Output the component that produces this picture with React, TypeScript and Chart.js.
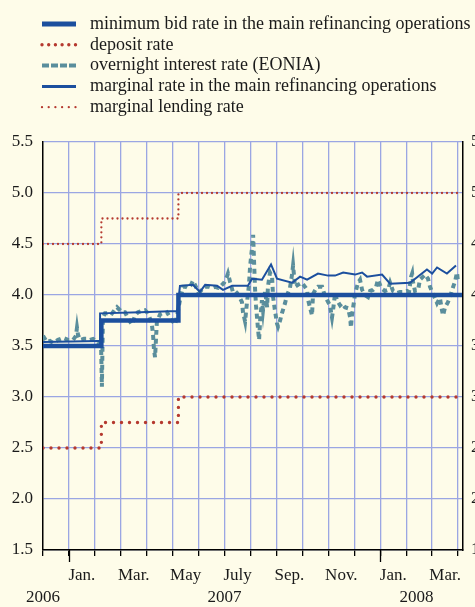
import React, { useEffect, useRef } from 'react';
import { Chart, registerables } from 'chart.js';

Chart.register(...registerables);

const FONT = '"Liberation Serif", "Times New Roman", serif';

// ---- Data (x = position in months along the time axis, 0 = left edge) ----
const rateChangePos = [0, 2.25, 5.22, 16.15];
const minBidRate = [3.5, 3.75, 4.0, 4.0];
const depositRate = [2.5, 2.75, 3.0, 3.0];
const lendingRate = [4.5, 4.75, 5.0, 5.0];

const eoniaPos = [
  0.0, 0.15, 0.27, 0.39, 0.58, 0.77, 0.96, 1.16, 1.27, 1.31, 1.35, 1.43, 1.58, 1.7, 1.81, 1.93, 2.04, 2.12,
  2.24, 2.27, 2.31, 2.39, 2.47, 2.58, 2.66, 2.78, 2.85, 2.97, 3.05, 3.16, 3.28, 3.35, 3.43, 3.55, 3.66, 3.78,
  3.93, 4.05, 4.12, 4.2, 4.24, 4.28, 4.32, 4.39, 4.51, 4.59, 4.7, 4.78, 4.9, 5.01, 5.09, 5.17, 5.28, 5.4,
  5.51, 5.59, 5.71, 5.78, 5.86, 5.98, 6.05, 6.17, 6.28, 6.4, 6.52, 6.63, 6.75, 6.86, 6.98, 7.09, 7.13, 7.21,
  7.32, 7.4, 7.48, 7.59, 7.67, 7.71, 7.79, 7.86, 7.94, 7.98, 8.06, 8.1, 8.13, 8.17, 8.21, 8.25, 8.29, 8.33,
  8.37, 8.44, 8.48, 8.56, 8.64, 8.67, 8.75, 8.83, 8.87, 8.94, 9.02, 9.06, 9.14, 9.21, 9.33, 9.41, 9.52, 9.6,
  9.64, 9.68, 9.71, 9.83, 9.98, 10.1, 10.18, 10.22, 10.29, 10.37, 10.41, 10.52, 10.6, 10.76, 10.87, 10.95,
  11.06, 11.14, 11.18, 11.26, 11.33, 11.45, 11.53, 11.64, 11.76, 11.84, 11.87, 11.91, 12.03, 12.14, 12.22,
  12.3, 12.41, 12.53, 12.61, 12.72, 12.84, 12.91, 12.99, 13.07, 13.18, 13.3, 13.38, 13.49, 13.65, 13.76,
  13.88, 14.03, 14.11, 14.19, 14.23, 14.26, 14.34, 14.46, 14.53, 14.65, 14.73, 14.84, 14.92, 15.03, 15.11,
  15.19, 15.3, 15.38, 15.42, 15.5, 15.61, 15.69, 15.77, 15.88, 15.96, 16.0,
];
const eoniaRate = [
  3.6, 3.54, 3.55, 3.53, 3.56, 3.58, 3.56, 3.56, 3.6, 3.68, 3.61, 3.56, 3.57, 3.57, 3.56, 3.57, 3.55, 3.54,
  3.49, 3.1, 3.78, 3.82, 3.82, 3.83, 3.82, 3.86, 3.88, 3.85, 3.83, 3.83, 3.77, 3.74, 3.71, 3.8, 3.83, 3.84,
  3.85, 3.82, 3.77, 3.7, 3.62, 3.46, 3.39, 3.74, 3.81, 3.82, 3.82, 3.83, 3.78, 3.74, 3.71, 3.8, 3.95, 4.08,
  4.08, 4.07, 4.1, 4.14, 4.1, 4.03, 4.03, 4.07, 4.08, 4.08, 4.07, 4.08, 4.07, 4.09, 4.12, 4.18, 4.21, 4.13,
  4.03, 4.04, 4.02, 3.97, 3.93, 3.83, 3.74, 3.92, 4.1, 4.27, 4.47, 4.59, 4.37, 4.08, 3.9, 3.78, 3.66, 3.56,
  3.75, 3.95, 3.85, 4.04, 3.88, 4.08, 4.22, 4.18, 3.98, 3.85, 3.72, 3.69, 3.75, 3.82, 3.92, 4.0, 4.07, 4.2,
  4.29, 4.18, 4.08, 4.1, 4.12, 4.08, 4.05, 3.95, 3.88, 3.8, 4.01, 4.06, 4.08, 4.08, 3.99, 3.95,
  3.9, 3.78, 3.85, 4.02, 3.95, 3.9, 3.92, 3.88, 3.87, 3.78, 3.68, 3.8, 4.01, 4.12, 4.15,
  4.05, 4.0, 3.98, 4.04, 4.05, 4.08, 4.15, 4.1, 4.06, 4.04, 4.05, 4.12, 4.04, 4.02, 4.03,
  4.03, 4.04, 4.03, 4.18, 4.21, 4.13, 4.04, 4.05, 4.15, 4.18, 4.2, 4.16, 4.08, 4.01, 3.97,
  3.92, 3.97, 3.85, 3.8, 3.88, 3.93, 3.98, 4.05, 4.13, 4.22, 4.12,
];

const marginalPos = [
  0, 2.12, 2.2, 2.2, 3.74, 4.9, 5.17, 5.28, 5.78, 6.05, 6.25, 6.71, 6.94, 7.29, 7.9, 8.06, 8.44, 8.79, 9.02,
  9.6, 9.91, 10.18, 10.6, 10.99, 11.26, 11.57, 12.03, 12.3, 12.49, 13.07, 13.38, 14.15, 14.8, 15.0, 15.19,
  15.57, 15.92,
];
const marginalRate = [
  3.54, 3.55, 3.55, 3.82, 3.83, 3.84, 3.84, 4.09, 4.1, 4.03, 4.1, 4.09, 4.05, 4.09, 4.09, 4.16, 4.15, 4.3,
  4.16, 4.12, 4.18, 4.15, 4.21, 4.19, 4.19, 4.22, 4.2, 4.22, 4.18, 4.2, 4.11, 4.12, 4.25, 4.21, 4.27, 4.21,
  4.29,
];

const seriesLabels = [
  'minimum bid rate in the main refinancing operations',
  'deposit rate',
  'overnight interest rate (EONIA)',
  'marginal rate in the main refinancing operations',
  'marginal lending rate',
];

const monthTickPos = [1.5, 3.5, 5.5, 7.5, 9.5, 11.5, 13.5, 15.5];
const monthTickLabels = ['Jan.', 'Mar.', 'May', 'July', 'Sep.', 'Nov.', 'Jan.', 'Mar.'];
const yearTickPos = [0, 7, 14.4];
const yearTickLabels = ['2006', '2007', '2008'];
const yearBoundaryPos = [1, 13];
const monthGridCount = 16;
const xMax = 16.19;
const yMin = 1.5;
const yMax = 5.5;
const yStep = 0.5;

// ---- Styles ----
const BG = '#fefce9';
const GRID = '#9ba6e3';
const TEXT = '#1a1a1a';
const BLUE = '#1c4f9e';
const RED = '#b5392f';
const TEAL = '#5a8e9c';

const zip = (xs: number[], ys: number[]) => xs.map((x, i) => ({ x, y: ys[i] }));

export default function App() {
  const canvasRef = useRef<HTMLCanvasElement | null>(null);

  useEffect(() => {
    if (!canvasRef.current) return;

    const bgPlugin = {
      id: 'bg',
      beforeDraw(chart: any) {
        const { ctx, width, height } = chart;
        ctx.save();
        ctx.fillStyle = BG;
        ctx.fillRect(0, 0, width, height);
        ctx.restore();
      },
    };

    const extrasPlugin = {
      id: 'extras',
      afterDraw(chart: any) {
        const ctx = chart.ctx;
        const xs = chart.scales.x;
        ctx.save();
        // long ticks at year boundaries
        ctx.strokeStyle = '#000';
        ctx.lineWidth = 1.3;
        yearBoundaryPos.forEach((p) => {
          const px = Math.round(xs.getPixelForValue(p)) + 0.5;
          ctx.beginPath();
          ctx.moveTo(px, xs.top);
          ctx.lineTo(px, xs.top + 12);
          ctx.stroke();
        });
        // legend
        const order = [0, 1, 2, 3, 4];
        order.forEach((di, k) => {
          const ds: any = chart.data.datasets[di];
          const y = 24 + k * 20.8;
          ctx.beginPath();
          ctx.strokeStyle = ds.borderColor;
          ctx.lineWidth = ds.legendWidth ?? ds.borderWidth;
          ctx.setLineDash(ds.legendDash ?? ds.borderDash ?? []);
          ctx.lineCap = ds.borderCapStyle ?? 'butt';
          ctx.moveTo(42, y);
          ctx.lineTo(76, y);
          ctx.stroke();
          ctx.setLineDash([]);
          ctx.fillStyle = TEXT;
          ctx.font = `18px ${FONT}`;
          ctx.textBaseline = 'middle';
          ctx.textAlign = 'left';
          ctx.fillText(ds.label, 90, y);
        });
        ctx.restore();
      },
    };

    const xTicks = () => {
      const vals: { value: number }[] = [];
      for (let i = 0; i <= monthGridCount; i++) vals.push({ value: i });
      monthTickPos.forEach((v) => vals.push({ value: v }));
      yearTickPos.forEach((v) => {
        if (!vals.some((t) => t.value === v)) vals.push({ value: v });
      });
      vals.sort((a, b) => a.value - b.value);
      return vals;
    };

    const chart = new Chart(canvasRef.current, {
      type: 'line',
      data: {
        datasets: [
          {
            label: seriesLabels[0],
            data: zip(rateChangePos, minBidRate),
            borderColor: BLUE,
            borderWidth: 4.5,
            legendWidth: 5,
            stepped: true,
            pointRadius: 0,
            order: 0,
          } as any,
          {
            label: seriesLabels[1],
            data: zip(rateChangePos, depositRate),
            borderColor: RED,
            borderWidth: 3.4,
            borderDash: [0, 8],
            legendDash: [0, 6.7],
            borderCapStyle: 'round',
            stepped: true,
            pointRadius: 0,
            order: 2,
          } as any,
          {
            label: seriesLabels[2],
            data: zip(eoniaPos, eoniaRate),
            borderColor: TEAL,
            borderWidth: 4,
            borderDash: [5, 4],
            legendDash: [7, 2],
            pointRadius: 0,
            tension: 0,
            order: 4,
          } as any,
          {
            label: seriesLabels[3],
            data: zip(marginalPos, marginalRate),
            borderColor: BLUE,
            borderWidth: 2,
            legendWidth: 3,
            pointRadius: 0,
            tension: 0,
            order: 1,
          } as any,
          {
            label: seriesLabels[4],
            data: zip(rateChangePos, lendingRate),
            borderColor: RED,
            borderWidth: 2.3,
            borderDash: [0, 5],
            legendDash: [0, 6.7],
            borderCapStyle: 'round',
            stepped: true,
            pointRadius: 0,
            order: 3,
          } as any,
        ],
      },
      options: {
        animation: false,
        responsive: false,
        devicePixelRatio: 1,
        layout: { padding: { top: 142, left: 0, right: 0, bottom: 0 } },
        plugins: {
          legend: { display: false },
          tooltip: { enabled: false },
        },
        font: { family: FONT, size: 17 } as any,
        scales: {
          x: {
            type: 'linear',
            min: 0,
            max: xMax,
            afterBuildTicks: (scale: any) => {
              scale.ticks = xTicks();
            },
            afterFit: (scale: any) => {
              scale.height = 57;
            },
            grid: {
              color: (c: any) =>
                Number.isInteger(c.tick?.value) && c.tick.value !== 0 ? GRID : 'rgba(0,0,0,0)',
              tickColor: (c: any) => (Number.isInteger(c.tick?.value) ? '#000' : 'rgba(0,0,0,0)'),
              tickLength: 6,
              tickWidth: 1.3,
              lineWidth: 1.3,
            },
            border: { display: true, color: '#000', width: 1.5 },
            ticks: {
              autoSkip: false,
              maxRotation: 0,
              minRotation: 0,
              padding: 8,
              color: TEXT,
              font: { family: FONT, size: 17, lineHeight: 1.3 },
              callback: (v: any) => {
                const val = Number(v);
                const mi = monthTickPos.indexOf(val);
                if (mi >= 0) return monthTickLabels[mi];
                const yi = yearTickPos.indexOf(val);
                if (yi >= 0) return ['', yearTickLabels[yi]];
                return '';
              },
            },
          },
          y: {
            type: 'linear',
            position: 'left',
            min: yMin,
            max: yMax,
            afterFit: (scale: any) => {
              scale.width = 43;
            },
            grid: { color: GRID, lineWidth: 1.3, drawTicks: false },
            border: { display: true, color: '#000', width: 1.5 },
            ticks: {
              stepSize: yStep,
              padding: 10,
              color: TEXT,
              font: { family: FONT, size: 17 },
              callback: (v: any) => Number(v).toFixed(1),
            },
          },
          y2: {
            type: 'linear',
            position: 'right',
            min: yMin,
            max: yMax,
            afterFit: (scale: any) => {
              scale.width = 37;
            },
            grid: { drawOnChartArea: false, drawTicks: false },
            border: { display: true, color: '#000', width: 1.5 },
            ticks: {
              stepSize: yStep,
              padding: 8,
              color: TEXT,
              font: { family: FONT, size: 17 },
              callback: (v: any) => Number(v).toFixed(1),
            },
          },
        },
      } as any,
      plugins: [bgPlugin, extrasPlugin],
    });

    return () => chart.destroy();
  }, []);

  return (
    <div
      style={{
        position: 'fixed',
        left: 0,
        top: 0,
        width: 475,
        height: 607,
        overflow: 'hidden',
        background: BG,
      }}
    >
      <canvas
        ref={canvasRef}
        width={500}
        height={607}
        style={{ position: 'absolute', left: 0, top: 0, width: 500, height: 607 }}
      />
    </div>
  );
}
